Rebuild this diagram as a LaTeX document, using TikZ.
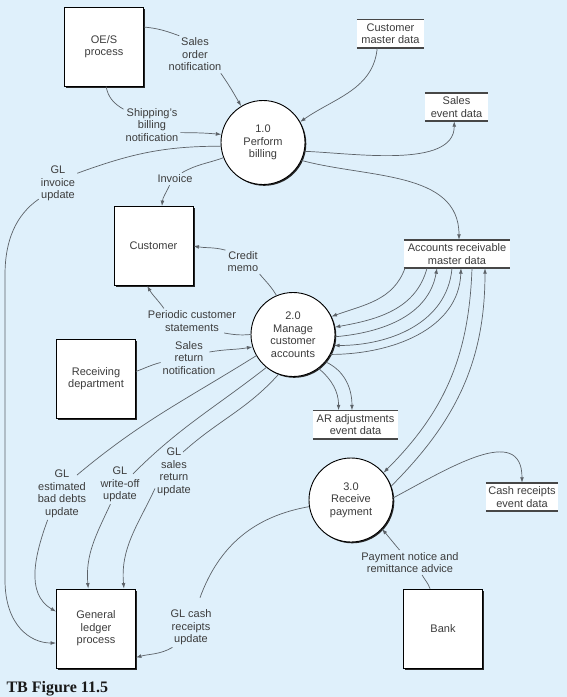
\documentclass[tikz,border=0pt]{standalone}
\usepackage{fontspec}
\setsansfont{Liberation Sans}
\newfontfamily\captionfont{Liberation Serif}
\usetikzlibrary{calc,shadows,arrows.meta}
\definecolor{paleblue}{RGB}{223,240,251}
\definecolor{inkgray}{RGB}{60,60,60}
\definecolor{flowgray}{RGB}{92,98,104}

\begin{document}
\begin{tikzpicture}[x=1pt,y=-1pt,>={Latex[length=5.5pt,width=3.8pt]},
  every node/.style={font=\sffamily\fontsize{11}{12.5}\selectfont,text=inkgray},
  entity/.style={draw=black,fill=white,line width=0.8pt,minimum width=79pt,minimum height=79pt,align=center,
    drop shadow={shadow xshift=1.8pt,shadow yshift=-1.8pt,opacity=1,fill=black!85}},
  process/.style={circle,draw=black,fill=white,line width=0.9pt,minimum size=84pt,inner sep=0pt,align=center,
    drop shadow={shadow xshift=1.3pt,shadow yshift=-1.3pt,opacity=1,fill=black!85}},
  storeline/.style={draw=black!72,line width=1.6pt},
  store/.style={fill=white,align=center,minimum height=28pt,inner sep=0pt,
    append after command={(\tikzlastnode.north west) edge[storeline] (\tikzlastnode.north east)
      (\tikzlastnode.south west) edge[storeline] (\tikzlastnode.south east)}},
  lbl/.style={align=center,inner sep=2pt},
  flow/.style={draw=flowgray,line width=0.7pt}]

  \fill[paleblue] (0,0) rectangle (567,697);
  \useasboundingbox (0,0) rectangle (567,697);

  % external entities
  \node[entity] (oes)  at (104,46.5)  {OE/S\\process};
  \node[entity] (cust) at (153.5,246) {Customer};
  \node[entity] (recv) at (96,378.5)  {Receiving\\department};
  \node[entity] (gl)   at (96,628.5)  {General\\ledger\\process};
  \node[entity] (bank) at (443,628.5) {Bank};

  % processes
  \node[process] (bill)    at (263,142.5) {1.0\\Perform\\billing};
  \node[process] (manage)  at (293,334.5) {2.0\\Manage\\customer\\accounts};
  \node[process] (receive) at (351,500)   {3.0\\Receive\\payment};

  % data stores
  \node[store,minimum width=67pt]  (cmd)   at (390.5,33.5) {Customer\\master data};
  \node[store,minimum width=63pt]  (sed)   at (456.5,107)  {Sales\\event data};
  \node[store,minimum width=106pt] (armd)  at (457,254)    {Accounts receivable\\master data};
  \node[store,minimum width=85pt]  (aradj) at (355.5,424.5) {AR adjustments\\event data};
  \node[store,minimum width=72pt]  (cred)  at (522,497)    {Cash receipts\\event data};

  % flow labels
  \node[lbl] (lSales)    at (195,54.5)  {Sales\\order\\notification};
  \node[lbl] (lShip)     at (152,125)   {Shipping’s\\billing\\notification};
  \node[lbl] (lGLinv)    at (58,183.5)  {GL\\invoice\\update};
  \node[lbl] (lInvoice)  at (175,179)   {Invoice};
  \node[lbl] (lCredit)   at (243,261.5) {Credit\\memo};
  \node[lbl] (lPeriodic) at (192,321)   {Periodic customer\\statements};
  \node[lbl] (lSalesRet) at (189,358)   {Sales\\return\\notification};
  \node[lbl] (lBadDebts) at (62,494)    {GL\\estimated\\bad debts\\update};
  \node[lbl] (lWriteOff) at (120,484.5) {GL\\write-off\\update};
  \node[lbl] (lReturnGL) at (174,472)   {GL\\sales\\return\\update};
  \node[lbl] (lCash)     at (191,627.5) {GL cash\\receipts\\update};
  \node[lbl] (lPayment)  at (410,562.5) {Payment notice and\\remittance advice};

  \node[anchor=base west,font=\captionfont\bfseries\fontsize{16}{18}\selectfont,text=black!90] (caption) at (3,692) {TB Figure 11.5};

  % 1.0 perform billing
  \draw[flow] (oes.26) to[out=-5,in=160] (lSales.130);
  \draw[flow,->] (lSales.-36) to[out=-55,in=120] (bill.121);
  \draw[flow] (oes.-87) to[out=-80,in=150] (lShip.151);
  \draw[flow,->] (lShip.-15) to[out=0,in=175] (bill.169);
  \draw[flow,->] (cmd.227) to[out=-95,in=35] (bill.29);
  \draw[flow,->] (bill.-12) to[out=-2,in=-90,looseness=0.8] (sed.-99);
  \draw[flow,->] (bill.-25) to[out=-15,in=90] (armd.82);
  \draw[flow] (bill.201) to[out=200,in=30] (lInvoice.42);
  \draw[flow,->] (lInvoice.229) to[out=-115,in=85] (cust.78);
  \draw[flow] (bill.185) to[out=180,in=20] (lGLinv.28);
  \draw[flow,->] (lGLinv.219) .. controls (16,215) and (5,240) .. (5,275) -- (5,580)
    .. controls (5,625) and (30,643) .. (gl.200);

  % 2.0 manage customer accounts
  \draw[flow] (manage.113) to[out=120,in=-50] (lCredit.-37);
  \draw[flow,->] (lCredit.147) to[out=165,in=-10] (cust.east);
  \draw[flow] (manage.180) to[out=185,in=-10] ($(lPeriodic.east)+(-14,12)$);
  \draw[flow,->] (lPeriodic.156) to[out=125,in=-60] (cust.-99);
  \draw[flow] (recv.10) to[out=20,in=195] (lSalesRet.189);
  \draw[flow,->] ($(lSalesRet.east)+(-8,-6)$) to[out=10,in=190] (manage.197);
  \draw[flow] (manage.210) to[out=212,in=40] ($(lBadDebts.north)+(15,7)$);
  \draw[flow,->] (lBadDebts.241) to[out=250,in=150] (gl.157);
  \draw[flow] (manage.231) to[out=218,in=45] ($(lWriteOff.north)+(13,9)$);
  \draw[flow,->] (lWriteOff.244) to[out=-115,in=95] (gl.101);
  \draw[flow] (manage.250) to[out=228,in=42] ($(lReturnGL.north)+(9,6)$);
  \draw[flow,->] (lReturnGL.221) to[out=-115,in=95] (gl.55);
  \draw[flow,->] ($(armd.south)+(-52,0)$) to[out=-110,in=20] (manage.25);
  \draw[flow,->] ($(armd.south)+(-30,0)$) to[out=-105,in=10] (manage.10);
  \draw[flow,->] (manage.-3) to[out=5,in=-100] ($(armd.south)+(-20,0)$);
  \draw[flow,->] ($(armd.south)+(-5,0)$) to[out=-95,in=0] (manage.-15);
  \draw[flow,->] (manage.-28) to[out=0,in=-92] ($(armd.south)+(4,0)$);
  \draw[flow,->] (manage.-53) to[out=-40,in=90] (aradj.140);
  \draw[flow,->] (manage.-40) to[out=-25,in=90] (aradj.104);

  % 3.0 receive payment
  \draw[flow,->] ($(armd.south)+(15,0)$) to[out=-92,in=45] (receive.40);
  \draw[flow,->] (receive.19) to[out=45,in=-90] ($(armd.south)+(28,0)$);
  \draw[flow,->] (receive.3) to[out=28,in=90,looseness=1.2] (cred.north);
  \draw[flow] (bank.108) to[out=110,in=-60] (lPayment.-46);
  \draw[flow,->] (lPayment.130) to[out=130,in=-50] (receive.-43);
  \draw[flow] (receive.189) to[out=190,in=70] ($(lCash.north)+(9,-10)$);
  \draw[flow,->] (lCash.227) to[out=210,in=15] (gl.-36);
\end{tikzpicture}
\end{document}
